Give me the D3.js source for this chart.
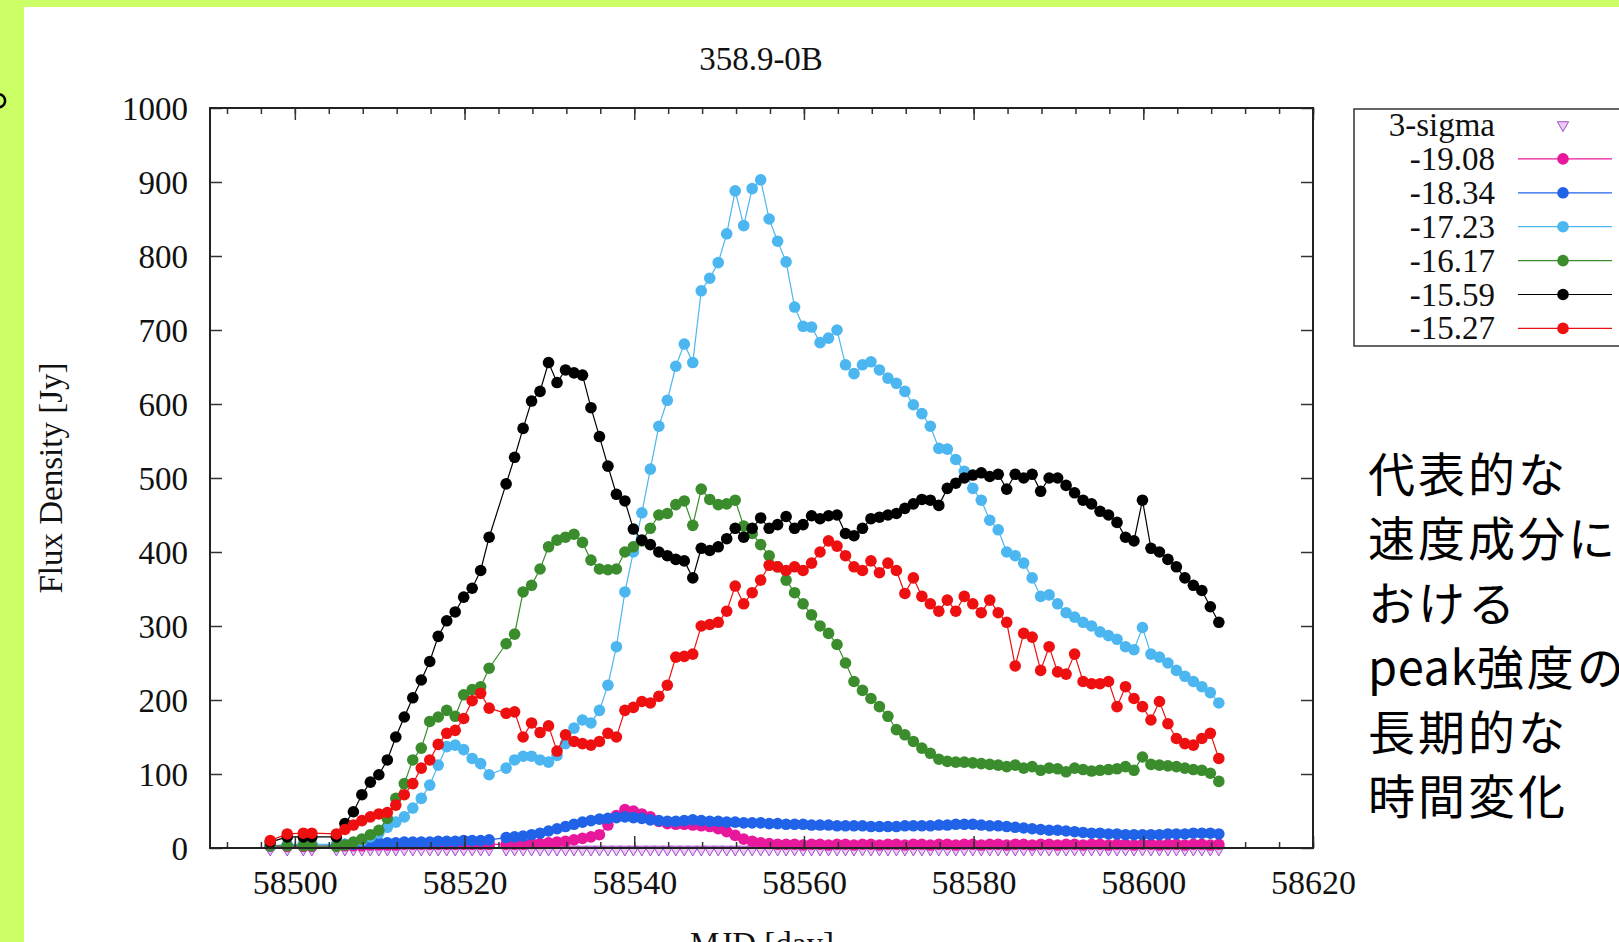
<!DOCTYPE html>
<html><head><meta charset="utf-8">
<script src="https://cdn.jsdelivr.net/npm/d3@7"></script>
<style>html,body{margin:0;padding:0;overflow:hidden;background:#ccff66}</style>
</head><body>
<svg id="c" width="1619" height="942"></svg>
<script>
const mjd = [58497.1, 58499.1, 58501.0, 58502.0,
58504.9, 58505.9, 58506.9, 58507.9, 58508.9, 58509.9, 58510.9, 58511.9, 58512.9, 58513.9,
58514.9, 58515.9, 58516.9, 58517.9, 58518.9, 58519.9, 58520.9, 58521.9, 58522.9,
58524.9, 58525.9, 58526.9, 58527.9, 58528.9, 58529.9, 58530.9, 58531.9, 58532.9, 58533.9,
58534.9, 58535.9, 58536.9, 58537.9, 58538.9, 58539.9, 58540.9, 58541.9, 58542.9, 58543.9,
58544.9, 58545.9, 58546.9, 58547.9, 58548.9, 58549.9, 58550.9, 58551.9, 58552.9, 58553.9,
58554.9, 58555.9, 58556.9, 58557.9, 58558.9, 58559.9, 58560.9, 58561.9, 58562.9, 58563.9,
58564.9, 58565.9, 58566.9, 58567.9, 58568.9, 58569.9, 58570.9, 58571.9, 58572.9, 58573.9,
58574.9, 58575.9, 58576.9, 58577.9, 58578.9, 58579.9, 58580.9, 58581.9, 58582.9, 58583.9,
58584.9, 58585.9, 58586.9, 58587.9, 58588.9, 58589.9, 58590.9, 58591.9, 58592.9, 58593.9,
58594.9, 58595.9, 58596.9, 58597.9, 58598.9, 58599.9, 58600.9, 58601.9, 58602.9, 58603.9,
58604.9, 58605.9, 58606.9, 58607.9, 58608.9];

const sigma3 = [-2, -2, -2, -2,
-2, -2, -2, -2, -2, -2, -2, -2, -2, -2, -2, -2, -2, -2, -2, -2, -2, -2, -2,
-2, -2, -2, -2, -2, -2, -2, -2, -2, -2,
-2, -2, -2, -2, -2, -2, -2, -2, -2, -2,
-2, -2, -2, -2, -2, -2, -2, -2, -2, -2,
-2, -2, -2, -2, -2, -2, -2, -2, -2, -2,
-2, -2, -2, -2, -2, -2, -2, -2, -2, -2,
-2, -2, -2, -2, -2, -2, -2, -2, -2, -2,
-2, -2, -2, -2, -2, -2, -2, -2, -2, -2,
-2, -2, -2, -2, -2, -2, -2, -2, -2, -2,
-2, -2, -2, -2, -2];

const v1908 = [2, 2, 2, 2,
3, 3, 3, 3, 4, 4, 4, 4, 5, 5, 5, 5, 5, 5, 5, 5, 5, 5, 5,
5, 5, 5, 6, 6, 7, 8, 9, 11, 13,
15, 18, 31, 44, 52, 50, 46, 42, 36, 33,
32, 32, 31, 30, 29, 26, 22, 17, 12, 9,
7, 6, 5, 5, 5, 4, 5, 5, 4, 5,
5, 4, 5, 5, 4, 5, 5, 4, 5, 5,
4, 5, 5, 4, 5, 5, 4, 5, 5, 4,
5, 5, 4, 5, 5, 4, 5, 5, 4, 5,
5, 4, 5, 5, 4, 5, 5, 4, 5, 5,
4, 5, 5, 4, 5];

const v1834 = [3, 4, 5, 5,
4, 5, 5, 6, 6, 7, 7, 7, 8, 8, 8, 8, 9, 9, 9, 10, 10, 10, 11,
14, 15, 16, 18, 20, 23, 26, 29, 32, 35,
37, 39, 40, 41, 42, 41, 40, 38, 37, 36,
36, 37, 38, 37, 36, 36, 35, 35, 34, 34,
34, 33, 33, 32, 32, 32, 31, 31, 31, 30,
30, 30, 30, 29, 29, 29, 29, 30, 30, 30,
30, 31, 31, 32, 32, 32, 31, 30, 30, 29,
28, 27, 26, 25, 24, 24, 23, 22, 21, 20,
20, 19, 19, 18, 18, 18, 18, 18, 19, 19,
19, 20, 20, 20, 19];

const v1723 = [3, 4, 5, 5,
5, 5, 7, 10, 15, 20, 28, 35, 42, 54, 67, 85, 112, 137, 139, 133, 121, 114, 99,
108, 119, 124, 124, 119, 116, 125, 141, 162, 173,
169, 186, 220, 272, 346, 400, 453, 512, 570, 605,
651, 681, 656, 753, 770, 791, 830, 888, 841, 891,
903, 850, 820, 792, 731, 705, 704, 683, 689, 700,
653, 641, 653, 657, 646, 635, 628, 617, 599, 587,
570, 540, 539, 525, 509, 486, 470, 443, 430, 400,
395, 385, 365, 340, 342, 330, 318, 312, 305, 300,
292, 287, 282, 272, 268, 298, 262, 258, 250, 240,
232, 225, 218, 210, 196];

const v1617 = [3, 3, 3, 3,
2, 4, 8, 12, 18, 24, 40, 67, 87, 119, 135, 171, 177, 186, 178, 207, 214, 218, 243,
276, 289, 346, 355, 377, 407, 416, 420, 424, 413,
389, 377, 376, 377, 400, 407, 415, 432, 450, 452,
464, 469, 436, 485, 471, 464, 465, 470, 435, 425,
410, 395, 380, 362, 345, 330, 315, 300, 290, 275,
250, 225, 213, 202, 191, 178, 160, 153, 144, 135,
128, 120, 117, 116, 116, 115, 114, 113, 112, 110,
112, 108, 110, 105, 108, 107, 103, 108, 106, 104,
105, 106, 107, 110, 105, 123, 113, 112, 111, 110,
108, 106, 105, 101, 90];

const v1559 = [8, 15, 15, 15,
15, 33, 49, 72, 89, 99, 119, 150, 177, 203, 227, 252, 286, 307, 319, 339, 351, 375, 420,
492, 528, 567, 604, 617, 656, 629, 646, 642, 639,
595, 556, 516, 478, 469, 431, 416, 410, 400, 395,
390, 388, 365, 405, 402, 407, 418, 432, 420, 432,
446, 432, 437, 448, 432, 437, 449, 445, 449, 450,
425, 422, 432, 445, 447, 450, 452, 459, 465, 471,
470, 463, 486, 493, 500, 504, 507, 502, 505, 485,
505, 500, 505, 482, 500, 500, 490, 480, 470, 465,
455, 450, 440, 420, 415, 470, 405, 400, 390, 380,
365, 355, 348, 326, 305];

const v1527 = [10, 19, 20, 20,
19, 25, 31, 37, 42, 46, 48, 58, 72, 87, 108, 119, 140, 155, 159, 175, 199, 209, 189,
182, 184, 150, 169, 156, 165, 131, 153, 144, 141,
139, 144, 155, 150, 186, 190, 198, 196, 205, 220,
258, 259, 262, 300, 302, 305, 320, 354, 330, 345,
362, 382, 380, 375, 380, 375, 385, 400, 415, 408,
395, 380, 375, 388, 372, 385, 375, 344, 365, 340,
330, 320, 335, 320, 340, 330, 318, 335, 318, 305,
246, 290, 285, 240, 272, 238, 235, 262, 225, 222,
222, 225, 191, 218, 202, 191, 173, 198, 168, 148,
141, 139, 148, 155, 121];

const seriesNames = ["-19.08", "-18.34", "-17.23", "-16.17", "-15.59", "-15.27"];
const seriesColors = ["#e8189c", "#2062e8", "#4cb6f0", "#3a8c2c", "#000000", "#ee1010"];
const seriesValues = [v1908, v1834, v1723, v1617, v1559, v1527];
const sigmaLabel = "3-sigma";
const sigmaColor = "#a050c8";
const xTicks = [58500, 58520, 58540, 58560, 58580, 58600, 58620];
const xMinor = d3.range(58492, 58621, 4);
const yTicks = [0, 100, 200, 300, 400, 500, 600, 700, 800, 900, 1000];
const titleText = "358.9-0B";
const xLabel = "MJD [day]";
const yLabel = "Flux Density [Jy]";
const noteLines = [["", "代表的な"], ["", "速度成分に"], ["", "おける"], ["peak", "強度の"], ["", "長期的な"], ["", "時間変化"]];

const svg = d3.select("#c");
const serif = "'Liberation Serif','Times New Roman',serif";
svg.append("rect").attr("width", 1619).attr("height", 942).attr("fill", "#ccff66");
svg.append("rect").attr("x", 24).attr("y", 7).attr("width", 1600).attr("height", 940).attr("fill", "#ffffff");
svg.append("text").attr("x", -11).attr("y", 105).attr("font-family", "'Noto Sans CJK JP'")
  .attr("font-size", 50).attr("fill", "#000").text("。");

const L = 210, R = 1313, T = 108, B = 848;
const x = d3.scaleLinear().domain([58490, 58620]).range([L, R]);
const y = d3.scaleLinear().domain([0, 1000]).range([B, T]);

const plot = svg.append("g");
// 3-sigma triangles
const tri = d3.symbol().type(d3.symbolTriangle).size(55);
plot.selectAll("path.sig").data(mjd).join("path").attr("class", "sig")
  .attr("d", tri).attr("fill", "#ecc8f6").attr("stroke", sigmaColor).attr("stroke-width", 1)
  .attr("transform", (d, i) => `translate(${x(d)},${y(sigma3[i])}) rotate(180)`);

const line = d3.line().x(d => x(d[0])).y(d => y(d[1]));
seriesValues.forEach((vals, k) => {
  const pts = mjd.map((m, i) => [m, vals[i]]);
  plot.append("path").datum(pts).attr("d", line).attr("fill", "none")
    .attr("stroke", seriesColors[k]).attr("stroke-width", 1.2);
  plot.append("g").selectAll("circle").data(pts).join("circle")
    .attr("cx", d => x(d[0])).attr("cy", d => y(d[1])).attr("r", 5.8)
    .attr("fill", seriesColors[k]);
});

// ticks (inward, mirrored)
const gMinorB = svg.append("g").attr("transform", `translate(0,${B})`)
  .call(d3.axisBottom(x).tickValues(xMinor).tickSize(-6).tickFormat(""));
const gMinorT = svg.append("g").attr("transform", `translate(0,${T})`)
  .call(d3.axisTop(x).tickValues(xMinor).tickSize(-6).tickFormat(""));
const gxB = svg.append("g").attr("transform", `translate(0,${B})`)
  .call(d3.axisBottom(x).tickValues(xTicks).tickSize(-12).tickPadding(22).tickFormat(d3.format("d")));
const gxT = svg.append("g").attr("transform", `translate(0,${T})`)
  .call(d3.axisTop(x).tickValues(xTicks).tickSize(-12).tickFormat(""));
const gyL = svg.append("g").attr("transform", `translate(${L},0)`)
  .call(d3.axisLeft(y).tickValues(yTicks).tickSize(-12).tickPadding(22).tickFormat(d3.format("d")));
const gyR = svg.append("g").attr("transform", `translate(${R},0)`)
  .call(d3.axisRight(y).tickValues(yTicks).tickSize(-12).tickFormat(""));
[gMinorB, gMinorT, gxB, gxT, gyL, gyR].forEach(g => {
  g.select(".domain").remove();
  g.selectAll("line").attr("stroke", "#333").attr("stroke-width", 1.5);
  g.selectAll("text").attr("font-family", serif).attr("font-size", 33).attr("fill", "#111");
});
gxB.selectAll("text").attr("font-size", 34);
gyL.selectAll("text").attr("dy", "0.34em");

// frame
svg.append("rect").attr("x", L).attr("y", T).attr("width", R - L).attr("height", B - T)
  .attr("fill", "none").attr("stroke", "#222").attr("stroke-width", 2);

svg.append("text").attr("x", 761).attr("y", 70).attr("text-anchor", "middle")
  .attr("font-family", serif).attr("font-size", 33).attr("fill", "#111").text(titleText);
svg.append("text").attr("x", 762).attr("y", 955).attr("text-anchor", "middle")
  .attr("font-family", serif).attr("font-size", 33).attr("fill", "#111").text(xLabel);
svg.append("text").attr("transform", "translate(62,478) rotate(-90)").attr("text-anchor", "middle")
  .attr("font-family", serif).attr("font-size", 33).attr("fill", "#111").text(yLabel);

// legend
const lg = svg.append("g");
lg.append("rect").attr("x", 1354).attr("y", 109).attr("width", 300).attr("height", 237)
  .attr("fill", "#fff").attr("stroke", "#333").attr("stroke-width", 1.5);
const rowY = i => 125 + i * 33.9;
const legendLabels = [sigmaLabel].concat(seriesNames);
lg.selectAll("text").data(legendLabels).join("text")
  .attr("x", 1495).attr("y", (d, i) => rowY(i) + 11).attr("text-anchor", "end")
  .attr("font-family", serif).attr("font-size", 33).attr("fill", "#111").text(d => d);
lg.append("path").attr("d", d3.symbol().type(d3.symbolTriangle).size(55))
  .attr("transform", `translate(1563,${rowY(0)}) rotate(180)`)
  .attr("fill", "#ecc8f6").attr("stroke", sigmaColor);
seriesNames.forEach((n, k) => {
  lg.append("line").attr("x1", 1518).attr("x2", 1612).attr("y1", rowY(k + 1)).attr("y2", rowY(k + 1))
    .attr("stroke", seriesColors[k]).attr("stroke-width", 1.2);
  lg.append("circle").attr("cx", 1563).attr("cy", rowY(k + 1)).attr("r", 5.8).attr("fill", seriesColors[k]);
});

// note text
const nt = svg.append("g").selectAll("text").data(noteLines).join("text")
  .attr("x", 1368).attr("y", (d, i) => 471 + i * 64.4).attr("dominant-baseline", "central")
  .attr("font-family", "'Noto Sans CJK JP'").attr("font-size", 47).attr("fill", "#000");
nt.append("tspan").attr("letter-spacing", 0.5).text(d => d[0]);
nt.append("tspan").attr("letter-spacing", 3).text(d => d[1]);
</script>
</body></html>
